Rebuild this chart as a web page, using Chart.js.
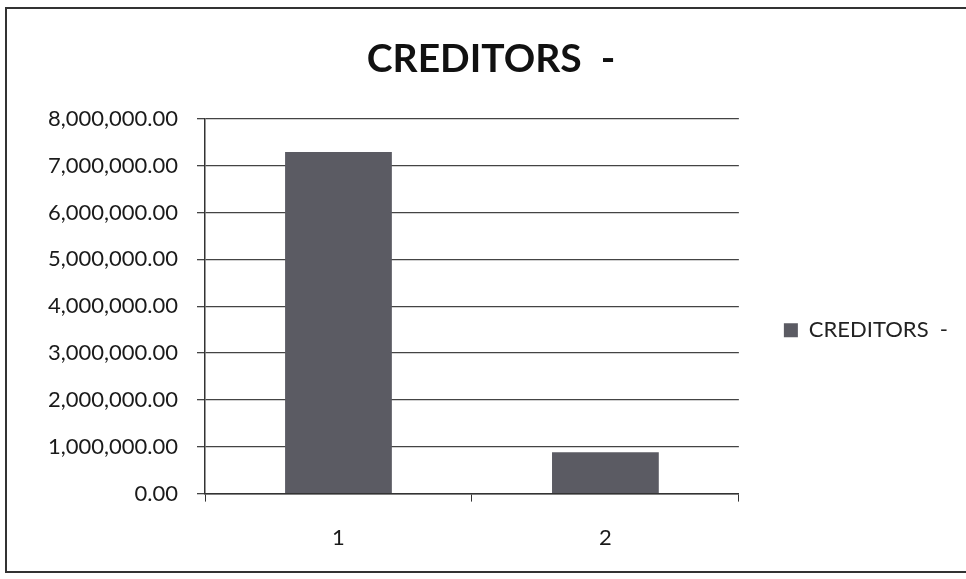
<!DOCTYPE html>
<html>
<head>
<meta charset="utf-8">
<script src="https://cdn.jsdelivr.net/npm/chart.js@4"></script>
<style>
  body { margin: 0; background: #fff; }
  #wrap { position: relative; width: 966px; height: 579px; }
  #frame { position: absolute; left: 5px; top: 7px; width: 980px; height: 566px;
           border: 2px solid #333; border-right: none; box-sizing: border-box; pointer-events: none; }
</style>
</head>
<body>
<div id="wrap">
  <canvas id="creditorsChart" width="966" height="579"></canvas>
  <div id="frame"></div>
</div>
<script>
const categories = ['1', '2'];
const creditors = [7290000, 885000];
const seriesName = 'CREDITORS  -';
const yMax = 8000000;
const yStep = 1000000;

const ctx = document.getElementById('creditorsChart').getContext('2d');
Chart.defaults.font.family = 'Lato, "Open Sans", sans-serif';
Chart.defaults.color = '#1a1a1a';

const chart = new Chart(ctx, {
    type: 'bar',
    data: {
        labels: categories,
        datasets: [{
            label: seriesName,
            data: creditors,
            backgroundColor: '#5b5b63',
            borderWidth: 0,
            barPercentage: 0.4,
            categoryPercentage: 1
        }]
    },
    options: {
        responsive: false,
        animation: false,
        layout: { padding: { top: 36, left: 24, right: 8, bottom: 5 } },
        plugins: {
            title: {
                display: true,
                text: seriesName,
                font: { size: 39, weight: 'bold' },
                color: '#111',
                padding: { top: 0, bottom: 36 }
            },
            legend: {
                position: 'right',
                title: { display: true, text: ' ', font: { size: 12 }, padding: 18 },
                labels: {
                    boxWidth: 14,
                    boxHeight: 14,
                    padding: 45,
                    font: { size: 22 },
                    color: '#222'
                }
            },
            tooltip: { enabled: false }
        },
        scales: {
            y: {
                min: 0,
                max: yMax,
                ticks: {
                    stepSize: yStep,
                    padding: 19,
                    font: { size: 22 },
                    callback: v => v.toLocaleString('en-US', { minimumFractionDigits: 2, maximumFractionDigits: 2 })
                },
                grid: { color: '#444', lineWidth: 1.3, tickLength: 8 },
                border: { color: '#333', width: 1.5 },
                afterFit: scale => { scale.width = 181; }
            },
            x: {
                ticks: { padding: 23, font: { size: 22 } },
                grid: { drawOnChartArea: false, color: '#333', tickLength: 8 },
                border: { color: '#333', width: 1.5 }
            }
        }
    }
});
</script>
</body>
</html>
